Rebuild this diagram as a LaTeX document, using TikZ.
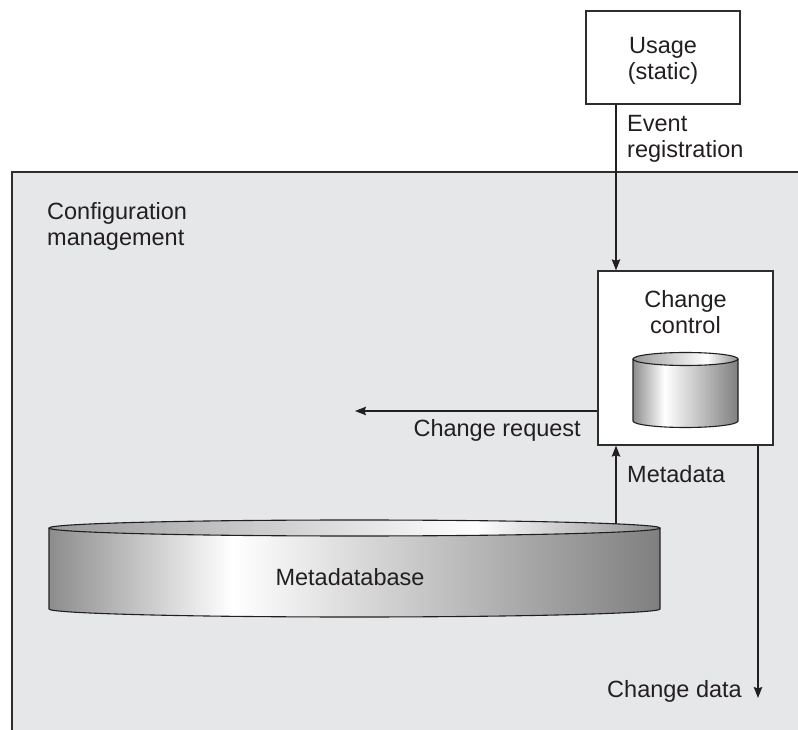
\documentclass[tikz,border=0pt]{standalone}
\usepackage{fontspec}
\setmainfont{Liberation Sans}
\usetikzlibrary{arrows.meta}

\definecolor{panel}{HTML}{E6E7E9}
\definecolor{ink}{HTML}{231F20}
\definecolor{edge}{HTML}{2E2E2E}
\definecolor{bodyL}{gray}{0.55}
\definecolor{bodyR}{gray}{0.50}
\definecolor{topL}{gray}{0.60}
\definecolor{topR}{gray}{0.56}

% cylinder surfaces: light band left of centre on the wall, right of centre on the lid
\pgfdeclarehorizontalshading{cylwall}{100bp}{color(0bp)=(bodyL); color(25bp)=(bodyL); color(40bp)=(white); color(75bp)=(bodyR); color(100bp)=(bodyR)}
\pgfdeclarehorizontalshading{cyllid}{100bp}{color(0bp)=(topL); color(25bp)=(topL); color(60bp)=(white); color(75bp)=(topR); color(100bp)=(topR)}

\begin{document}
\begin{tikzpicture}[x=1pt,y=1pt,
  txt/.style={font=\fontsize{23.5}{26.5}\selectfont, text=ink, inner sep=0pt},
  box/.style={draw=edge, line width=1.3pt, fill=white, inner sep=0pt},
  conn/.style={draw=ink, line width=1.1pt, -{Stealth[length=11pt,width=8.5pt,inset=1.5pt]}},
  cylline/.style={draw=ink, line width=1.1pt}]

\useasboundingbox (0,0) rectangle (798,729);

% configuration management area
\fill[panel] (12,-5) rectangle (805,557);
\draw[edge, line width=2.4pt] (12,-5) -- (12,557) -- (805,557);
% multi-line labels are placed by the baseline of their last line
\node[txt, anchor=base west, align=left] (cm) at (47,483) {Configuration\\management};

% usage box
\node[box, minimum width=154pt, minimum height=93pt] (usage) at (663,671.5) {};
\node[txt, anchor=base, align=center] (usagelbl) at (663,649) {Usage\\(static)};

% change control box
\node[box, minimum width=175pt, minimum height=174pt] (cc) at (685.5,371) {};
\node[txt, anchor=base, align=center] (cclbl) at (685.5,395) {Change\\control};

% small store inside change control
\shade[shading=cylwall] (633,370) -- (633,308) arc[start angle=180, end angle=360, x radius=52.5, y radius=6.5] -- (738,370) -- cycle;
\draw[cylline] (633,370) -- (633,308) arc[start angle=180, end angle=360, x radius=52.5, y radius=6.5] -- (738,370);
\shade[shading=cyllid] (685.5,370) ellipse[x radius=52.5, y radius=6.5];
\draw[cylline] (685.5,370) ellipse[x radius=52.5, y radius=6.5];

% metadatabase
\shade[shading=cylwall] (49,201) -- (49,120) arc[start angle=180, end angle=360, x radius=305.5, y radius=8] -- (660,201) -- cycle;
\draw[cylline] (49,201) -- (49,120) arc[start angle=180, end angle=360, x radius=305.5, y radius=8] -- (660,201);
\shade[shading=cyllid] (354.5,201) ellipse[x radius=305.5, y radius=8];
\draw[cylline] (354.5,201) ellipse[x radius=305.5, y radius=8];
\node[txt, anchor=base] (mdb) at (350,144) {Metadatabase};

% connector end points
\coordinate (evx) at (616,0);
\coordinate (mdtop) at (616,205);
\coordinate (reqend) at (355,318);
\coordinate (cdx) at (758,0);
\coordinate (cdend) at (758,31);

% connectors
\draw[conn] (usage.south -| evx) -- (cc.north -| evx);
\node[txt, anchor=base west, align=left] (evlbl) at (627,571) {Event\\registration};

\draw[conn] (cc.west |- reqend) -- (reqend);
\node[txt, anchor=base east] (reqlbl) at (581,292) {Change request};

\draw[conn] (mdtop) -- (cc.south -| mdtop);
\node[txt, anchor=base west] (mdlbl) at (627,246) {Metadata};

\draw[conn] (cc.south -| cdx) -- (cdend);
\node[txt, anchor=base east] (cdlbl) at (742,32) {Change data};

\end{tikzpicture}
\end{document}
